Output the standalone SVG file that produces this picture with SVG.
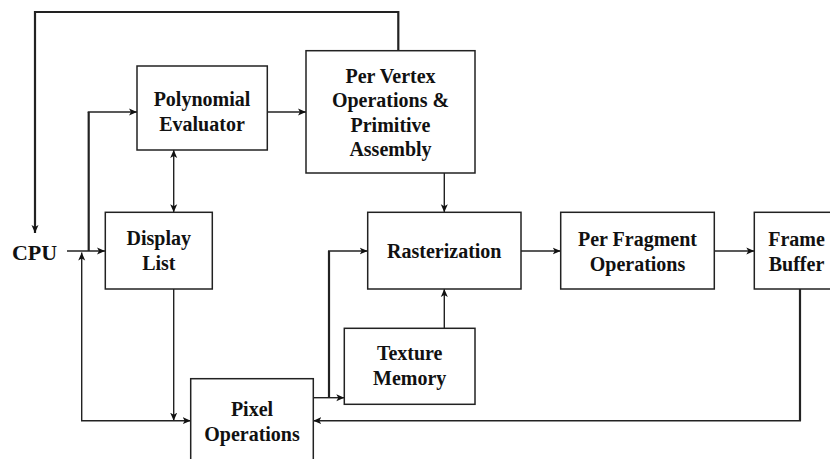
<svg xmlns="http://www.w3.org/2000/svg" width="830" height="459" viewBox="0 0 830 459">
<style>
.box{fill:#fff;stroke:#222;stroke-width:1.5}
.t{font-family:"Liberation Serif","Times New Roman",serif;font-weight:bold;font-size:20px;fill:#111;text-anchor:middle}
.c{fill:none;stroke:#222;stroke-width:1.4}
.k{stroke-width:2.2}
</style>
<defs>
<marker id="a" markerUnits="userSpaceOnUse" markerWidth="9" markerHeight="8" refX="8" refY="4" orient="auto-start-reverse">
<path d="M0,0.5 L8,4 L0,7.5 L2,4 z" fill="#111"/>
</marker>
</defs>
<rect width="830" height="459" fill="#fff"/>
<g id="connectors">
<path class="c k" d="M398.3,50.7 V12 H35 V233" marker-end="url(#a)"/>
<path class="c" d="M67,251 H105" marker-end="url(#a)"/>
<path class="c k" d="M88.7,251 V112"/>
<path class="c" d="M87.7,112 H137" marker-end="url(#a)"/>
<path class="c" d="M267.3,112 H306" marker-end="url(#a)"/>
<path class="c" d="M173.7,150 V212.3" marker-start="url(#a)" marker-end="url(#a)"/>
<path class="c" d="M444.3,173 V212.3" marker-end="url(#a)"/>
<path class="c" d="M521,251 H560.7" marker-end="url(#a)"/>
<path class="c" d="M714.3,251 H754.3" marker-end="url(#a)"/>
<path class="c" d="M444.3,328.3 V289" marker-end="url(#a)"/>
<path class="c" d="M173.7,289 V420.7" marker-end="url(#a)"/>
<path class="c" d="M81.7,252.5 V420.7 H190.7" marker-start="url(#a)" marker-end="url(#a)"/>
<path class="c" d="M313.3,397.7 H344.3" marker-end="url(#a)"/>
<path class="c k" d="M329,397.7 V251"/>
<path class="c" d="M328,251 H367.7" marker-end="url(#a)"/>
<path class="c k" d="M800,289 V420.7"/>
<path class="c" d="M801,420.7 H313.3" marker-end="url(#a)"/>
</g>
<g id="cpu">
<text class="t" x="34.5" y="260" style="font-size:22px">CPU</text>
</g>
<g id="polynomial">
<rect class="box" x="137" y="66" width="130.3" height="84"/>
<text class="t" x="202" y="106">Polynomial</text>
<text class="t" x="202" y="130.5">Evaluator</text>
</g>
<g id="pervertex">
<rect class="box" x="306" y="50.7" width="169" height="122.3"/>
<text class="t" x="390.5" y="83">Per Vertex</text>
<text class="t" x="390.5" y="107.3">Operations &amp;</text>
<text class="t" x="390.5" y="131.7">Primitive</text>
<text class="t" x="390.5" y="156">Assembly</text>
</g>
<g id="displaylist">
<rect class="box" x="105.3" y="212.3" width="107" height="76.7"/>
<text class="t" x="158.8" y="245">Display</text>
<text class="t" x="158.8" y="269.5">List</text>
</g>
<g id="rasterization">
<rect class="box" x="367.7" y="212.3" width="153.3" height="76.7"/>
<text class="t" x="444.3" y="258.3">Rasterization</text>
</g>
<g id="perfragment">
<rect class="box" x="560.7" y="212.3" width="153.6" height="76.7"/>
<text class="t" x="637.5" y="246">Per Fragment</text>
<text class="t" x="637.5" y="270.7">Operations</text>
</g>
<g id="framebuffer">
<rect class="box" x="754.3" y="212.3" width="90" height="76.7"/>
<text class="t" x="796.5" y="246">Frame</text>
<text class="t" x="796.5" y="270.7">Buffer</text>
</g>
<g id="texturememory">
<rect class="box" x="344.3" y="328.3" width="130.7" height="76"/>
<text class="t" x="409.7" y="360">Texture</text>
<text class="t" x="409.7" y="385">Memory</text>
</g>
<g id="pixelops">
<rect class="box" x="190.7" y="378.7" width="122.6" height="95"/>
<text class="t" x="252" y="416">Pixel</text>
<text class="t" x="252" y="440.7">Operations</text>
</g>
</svg>
